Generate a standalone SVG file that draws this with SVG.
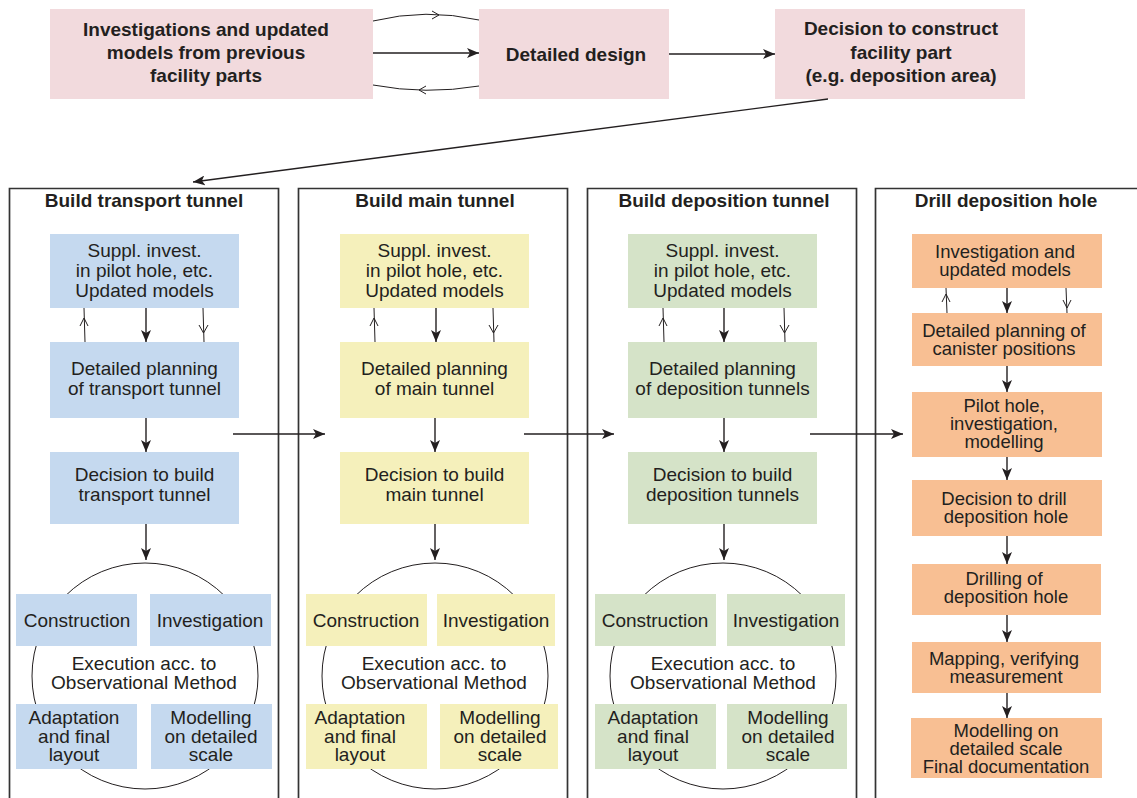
<svg xmlns="http://www.w3.org/2000/svg" width="1137" height="798" viewBox="0 0 1137 798">
  <defs>
    <marker id="ah" viewBox="0 0 12 10" refX="12" refY="5" markerWidth="12" markerHeight="10" markerUnits="userSpaceOnUse" orient="auto">
      <path d="M0,0 L12,5 L0,10 L3,5 Z" fill="#231f20"/>
    </marker>
  </defs>
  <style>
    text { font-family: "Liberation Sans", Arial, sans-serif; fill: #231f20; text-anchor: middle; }
    .b { font-weight: bold; font-size: 19px; }
    .r { font-size: 19px; }
    .s { font-size: 18.5px; }
    .pink { fill: #f2dadd; }
    .blue { fill: #c5d9ef; }
    .yel { fill: #f5f0bb; }
    .grn { fill: #d5e3c8; }
    .org { fill: #f8bf93; }
    .ln { fill: none; stroke: #231f20; stroke-width: 1.4; }
    .thin { fill: none; stroke: #231f20; stroke-width: 1; }
    .frame { fill: none; stroke: #333333; stroke-width: 1.7; }
    .circ { fill: none; stroke: #231f20; stroke-width: 1; }
  </style>

  <rect width="1137" height="798" fill="#ffffff"/>

  <!-- column frames -->
  <g id="frames">
    <path class="frame" d="M9.5,798 V188.5 H278.5 V798"/>
    <path class="frame" d="M298.5,798 V188.5 H567.5 V798"/>
    <path class="frame" d="M587.5,798 V188.5 H856.5 V798"/>
    <path class="frame" d="M875.5,798 V188.5 H1137"/>
  </g>

  <!-- top row -->
  <g id="top-investigations">
    <rect class="pink" x="50" y="9" width="323" height="90"/>
    <text class="b" x="206" y="36">Investigations and updated</text>
    <text class="b" x="206" y="59">models from previous</text>
    <text class="b" x="206" y="82">facility parts</text>
  </g>
  <g id="top-design">
    <rect class="pink" x="479" y="9" width="190" height="90"/>
    <text class="b" x="576" y="61">Detailed design</text>
  </g>
  <g id="top-decision">
    <rect class="pink" x="775" y="9" width="250" height="90"/>
    <text class="b" x="901" y="35">Decision to construct</text>
    <text class="b" x="901" y="59">facility part</text>
    <text class="b" x="901" y="82">(e.g. deposition area)</text>
  </g>

  <!-- column headings -->
  <g id="headings">
    <text class="b" x="144" y="207">Build transport tunnel</text>
    <text class="b" x="435" y="207">Build main tunnel</text>
    <text class="b" x="724" y="207">Build deposition tunnel</text>
    <text class="b" x="1006" y="207">Drill deposition hole</text>
  </g>

  <!-- column 1: transport tunnel -->
  <g id="t-suppl">
    <rect class="blue" x="50" y="234" width="189" height="74"/>
    <text class="r" x="144.5" y="257">Suppl. invest.</text>
    <text class="r" x="144.5" y="277">in pilot hole, etc.</text>
    <text class="r" x="144.5" y="297">Updated models</text>
  </g>
  <g id="t-plan">
    <rect class="blue" x="50" y="342" width="189" height="76"/>
    <text class="r" x="144.5" y="375">Detailed planning</text>
    <text class="r" x="144.5" y="395">of transport tunnel</text>
  </g>
  <g id="t-decision">
    <rect class="blue" x="50" y="452" width="189" height="72"/>
    <text class="r" x="144.5" y="481">Decision to build</text>
    <text class="r" x="144.5" y="501">transport tunnel</text>
  </g>
  <g id="t-exec">
    <circle class="circ" cx="145" cy="676" r="113"/>
    <text class="r" x="144" y="670">Execution acc. to</text>
    <text class="r" x="144" y="689">Observational Method</text>
  </g>
  <g id="t-construction">
    <rect class="blue" x="16" y="594" width="121" height="52"/>
    <text class="r" x="77" y="627">Construction</text>
  </g>
  <g id="t-investigation">
    <rect class="blue" x="150" y="594" width="121" height="52"/>
    <text class="r" x="210" y="627">Investigation</text>
  </g>
  <g id="t-adaptation">
    <rect class="blue" x="16" y="704" width="121" height="65"/>
    <text class="r" x="74" y="724">Adaptation</text>
    <text class="r" x="74" y="743">and final</text>
    <text class="r" x="74" y="761">layout</text>
  </g>
  <g id="t-modelling">
    <rect class="blue" x="151" y="704" width="121" height="65"/>
    <text class="r" x="211" y="724">Modelling</text>
    <text class="r" x="211" y="743">on detailed</text>
    <text class="r" x="211" y="761">scale</text>
  </g>

  <!-- column 2: main tunnel -->
  <g id="m-suppl">
    <rect class="yel" x="340" y="234" width="189" height="74"/>
    <text class="r" x="434.5" y="257">Suppl. invest.</text>
    <text class="r" x="434.5" y="277">in pilot hole, etc.</text>
    <text class="r" x="434.5" y="297">Updated models</text>
  </g>
  <g id="m-plan">
    <rect class="yel" x="340" y="342" width="189" height="76"/>
    <text class="r" x="434.5" y="375">Detailed planning</text>
    <text class="r" x="434.5" y="395">of main tunnel</text>
  </g>
  <g id="m-decision">
    <rect class="yel" x="340" y="452" width="189" height="72"/>
    <text class="r" x="434.5" y="481">Decision to build</text>
    <text class="r" x="434.5" y="501">main tunnel</text>
  </g>
  <g id="m-exec">
    <circle class="circ" cx="435" cy="676" r="113"/>
    <text class="r" x="434" y="670">Execution acc. to</text>
    <text class="r" x="434" y="689">Observational Method</text>
  </g>
  <g id="m-construction">
    <rect class="yel" x="306" y="594" width="121" height="52"/>
    <text class="r" x="366" y="627">Construction</text>
  </g>
  <g id="m-investigation">
    <rect class="yel" x="437" y="594" width="118" height="52"/>
    <text class="r" x="496" y="627">Investigation</text>
  </g>
  <g id="m-adaptation">
    <rect class="yel" x="306" y="704" width="121" height="65"/>
    <text class="r" x="360" y="724">Adaptation</text>
    <text class="r" x="360" y="743">and final</text>
    <text class="r" x="360" y="761">layout</text>
  </g>
  <g id="m-modelling">
    <rect class="yel" x="440" y="704" width="118" height="65"/>
    <text class="r" x="500" y="724">Modelling</text>
    <text class="r" x="500" y="743">on detailed</text>
    <text class="r" x="500" y="761">scale</text>
  </g>

  <!-- column 3: deposition tunnel -->
  <g id="d-suppl">
    <rect class="grn" x="628" y="234" width="189" height="74"/>
    <text class="r" x="722.5" y="257">Suppl. invest.</text>
    <text class="r" x="722.5" y="277">in pilot hole, etc.</text>
    <text class="r" x="722.5" y="297">Updated models</text>
  </g>
  <g id="d-plan">
    <rect class="grn" x="628" y="342" width="189" height="76"/>
    <text class="r" x="722.5" y="375">Detailed planning</text>
    <text class="r" x="722.5" y="395">of deposition tunnels</text>
  </g>
  <g id="d-decision">
    <rect class="grn" x="628" y="452" width="189" height="72"/>
    <text class="r" x="722.5" y="481">Decision to build</text>
    <text class="r" x="722.5" y="501">deposition tunnels</text>
  </g>
  <g id="d-exec">
    <circle class="circ" cx="723" cy="676" r="113"/>
    <text class="r" x="723" y="670">Execution acc. to</text>
    <text class="r" x="723" y="689">Observational Method</text>
  </g>
  <g id="d-construction">
    <rect class="grn" x="595" y="594" width="121" height="52"/>
    <text class="r" x="655" y="627">Construction</text>
  </g>
  <g id="d-investigation">
    <rect class="grn" x="727" y="594" width="118" height="52"/>
    <text class="r" x="786" y="627">Investigation</text>
  </g>
  <g id="d-adaptation">
    <rect class="grn" x="595" y="704" width="121" height="65"/>
    <text class="r" x="653" y="724">Adaptation</text>
    <text class="r" x="653" y="743">and final</text>
    <text class="r" x="653" y="761">layout</text>
  </g>
  <g id="d-modelling">
    <rect class="grn" x="727" y="704" width="120" height="65"/>
    <text class="r" x="788" y="724">Modelling</text>
    <text class="r" x="788" y="743">on detailed</text>
    <text class="r" x="788" y="761">scale</text>
  </g>

  <!-- column 4: deposition hole -->
  <g id="h-invest">
    <rect class="org" x="912" y="234" width="190" height="54"/>
    <text class="s" x="1005" y="258">Investigation and</text>
    <text class="s" x="1005" y="276">updated models</text>
  </g>
  <g id="h-plan">
    <rect class="org" x="912" y="313" width="190" height="53"/>
    <text class="s" x="1004" y="337">Detailed planning of</text>
    <text class="s" x="1004" y="355">canister positions</text>
  </g>
  <g id="h-pilot">
    <rect class="org" x="912" y="392" width="190" height="65"/>
    <text class="s" x="1004" y="412">Pilot hole,</text>
    <text class="s" x="1004" y="430">investigation,</text>
    <text class="s" x="1004" y="448">modelling</text>
  </g>
  <g id="h-decision">
    <rect class="org" x="912" y="480" width="190" height="56"/>
    <text class="s" x="1004" y="505">Decision to drill</text>
    <text class="s" x="1006" y="523">deposition hole</text>
  </g>
  <g id="h-drilling">
    <rect class="org" x="912" y="564" width="189" height="51"/>
    <text class="s" x="1004" y="585">Drilling of</text>
    <text class="s" x="1006" y="603">deposition hole</text>
  </g>
  <g id="h-mapping">
    <rect class="org" x="912" y="642" width="189" height="51"/>
    <text class="s" x="1004" y="665">Mapping, verifying</text>
    <text class="s" x="1006" y="683">measurement</text>
  </g>
  <g id="h-final">
    <rect class="org" x="911" y="718" width="191" height="60"/>
    <text class="s" x="1006" y="737">Modelling on</text>
    <text class="s" x="1006" y="755">detailed scale</text>
    <text class="s" x="1006" y="773">Final documentation</text>
  </g>

  <!-- connectors -->
  <g id="connectors">
    <!-- top row loop and flow -->
    <path class="thin" d="M373,21 Q426,8 479,20"/>
    <polyline class="thin" points="432,11 439,15 432,19"/>
    <line class="ln" x1="373" y1="53" x2="479" y2="53" marker-end="url(#ah)"/>
    <path class="thin" d="M373,85 Q426,95 479,86"/>
    <polyline class="thin" points="426,86 419,90 426,94"/>
    <line class="ln" x1="669" y1="54" x2="775" y2="54" marker-end="url(#ah)"/>
    <line class="ln" x1="828" y1="99" x2="193" y2="182" marker-end="url(#ah)"/>

    <!-- column 1 -->
    <line class="thin" x1="85" y1="342" x2="84" y2="308"/>
    <polyline class="thin" points="80,326 84,318 88,326"/>
    <line class="ln" x1="146" y1="308" x2="146" y2="342" marker-end="url(#ah)"/>
    <line class="thin" x1="203" y1="308" x2="204" y2="342"/>
    <polyline class="thin" points="199,325 203.5,333 208,325"/>
    <line class="ln" x1="146" y1="418" x2="146" y2="452" marker-end="url(#ah)"/>
    <line class="ln" x1="146" y1="524" x2="146" y2="560" marker-end="url(#ah)"/>

    <!-- column 2 -->
    <line class="thin" x1="375" y1="342" x2="374" y2="308"/>
    <polyline class="thin" points="370,326 374,318 378,326"/>
    <line class="ln" x1="436" y1="308" x2="436" y2="342" marker-end="url(#ah)"/>
    <line class="thin" x1="493" y1="308" x2="494" y2="342"/>
    <polyline class="thin" points="489,325 493.5,333 498,325"/>
    <line class="ln" x1="435" y1="418" x2="435" y2="452" marker-end="url(#ah)"/>
    <line class="ln" x1="435" y1="524" x2="435" y2="560" marker-end="url(#ah)"/>

    <!-- column 3 -->
    <line class="thin" x1="664" y1="342" x2="663" y2="308"/>
    <polyline class="thin" points="659,326 663,318 667,326"/>
    <line class="ln" x1="724" y1="308" x2="724" y2="342" marker-end="url(#ah)"/>
    <line class="thin" x1="784" y1="308" x2="785" y2="342"/>
    <polyline class="thin" points="780,325 784.5,333 789,325"/>
    <line class="ln" x1="724" y1="418" x2="724" y2="452" marker-end="url(#ah)"/>
    <line class="ln" x1="724" y1="524" x2="724" y2="560" marker-end="url(#ah)"/>

    <!-- column 4 -->
    <line class="thin" x1="947" y1="313" x2="946" y2="288"/>
    <polyline class="thin" points="942,302 946,294 950,302"/>
    <line class="ln" x1="1007" y1="288" x2="1007" y2="313" marker-end="url(#ah)"/>
    <line class="thin" x1="1066" y1="288" x2="1067" y2="313"/>
    <polyline class="thin" points="1063,300 1067,308 1071,300"/>
    <line class="ln" x1="1007" y1="366" x2="1007" y2="392" marker-end="url(#ah)"/>
    <line class="ln" x1="1007" y1="457" x2="1007" y2="480" marker-end="url(#ah)"/>
    <line class="ln" x1="1007" y1="536" x2="1007" y2="564" marker-end="url(#ah)"/>
    <line class="ln" x1="1007" y1="615" x2="1007" y2="642" marker-end="url(#ah)"/>
    <line class="ln" x1="1007" y1="693" x2="1007" y2="718" marker-end="url(#ah)"/>

    <!-- between columns -->
    <line class="ln" x1="233" y1="434" x2="325" y2="434" marker-end="url(#ah)"/>
    <line class="ln" x1="524" y1="434" x2="614" y2="434" marker-end="url(#ah)"/>
    <line class="ln" x1="810" y1="434" x2="903" y2="434" marker-end="url(#ah)"/>
  </g>
</svg>
